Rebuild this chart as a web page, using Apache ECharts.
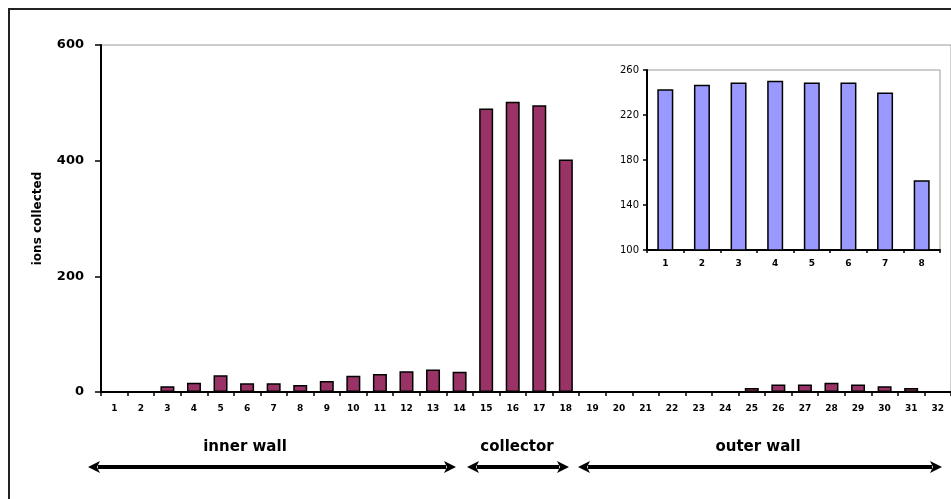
<!DOCTYPE html>
<html>
<head>
<meta charset="utf-8">
<script src="https://cdn.jsdelivr.net/npm/echarts@6/dist/echarts.min.js"></script>
<style>
html,body{margin:0;padding:0;background:#fff;}
#chart{width:951px;height:499px;}
</style>
</head>
<body>
<div id="chart"></div>
<script>
// Main chart: ions collected per segment
const mainCategories = ['1','2','3','4','5','6','7','8','9','10','11','12','13','14','15','16','17','18','19','20','21','22','23','24','25','26','27','28','29','30','31','32'];
const mainValues = [0,0,10,16,29,15,15,12,19,28,31,36,39,35,490,502,496,402,0,0,0,0,0,0,7,13,13,16,13,10,7,0];
const mainYTicks = [0,200,400,600];

// Inset chart: collector detail
const insetCategories = ['1','2','3','4','5','6','7','8'];
const insetValues = [243,247,249,250.5,249,249,240,162];
const insetYTicks = [100,140,180,220,260];

// Region annotations
const regionLabels = ['inner wall','collector','outer wall'];

const chart = echarts.init(document.getElementById('chart'), null, {renderer:'canvas'});
const FONT = 'DejaVu Sans';

function arrow(x1, x2, y) {
  const h = 6, len = 12;
  return [
    {type:'line', shape:{x1:x1+len-2, y1:y, x2:x2-len+2, y2:y}, style:{stroke:'#000', lineWidth:4}},
    {type:'polygon', shape:{points:[[x1,y],[x1+len,y-h],[x1+len-3,y],[x1+len,y+h]]}, style:{fill:'#000'}},
    {type:'polygon', shape:{points:[[x2,y],[x2-len,y-h],[x2-len+3,y],[x2-len,y+h]]}, style:{fill:'#000'}}
  ];
}

const option = {
  backgroundColor:'#fff',
  animation:false,
  grid:[
    {left:101, top:45, right:-8, bottom:107, show:true, borderColor:'#9a9a9a', borderWidth:1, backgroundColor:'transparent'},
    {left:647, top:70, right:11, bottom:249, show:true, borderColor:'#9a9a9a', borderWidth:1, backgroundColor:'#fff'}
  ],
  xAxis:[
    {type:'category', gridIndex:0, data:mainCategories,
      axisLine:{lineStyle:{color:'#000', width:2}},
      axisTick:{show:true, length:4, lineStyle:{color:'#000', width:1.5}},
      axisLabel:{color:'#000', fontFamily:FONT, fontWeight:'bold', fontSize:9, margin:12, interval:0}},
    {type:'category', gridIndex:1, data:insetCategories,
      axisLine:{lineStyle:{color:'#000', width:2}},
      axisTick:{show:true, length:3, lineStyle:{color:'#000', width:1.5}},
      axisLabel:{color:'#000', fontFamily:FONT, fontWeight:'bold', fontSize:9, margin:9, interval:0}}
  ],
  yAxis:[
    {type:'value', gridIndex:0, min:mainYTicks[0], max:mainYTicks[mainYTicks.length-1], interval:mainYTicks[1]-mainYTicks[0],
      name:'ions collected', nameLocation:'middle', nameGap:57, nameRotate:90,
      nameTextStyle:{color:'#000', fontFamily:FONT, fontWeight:'bold', fontSize:12},
      axisLine:{show:true, lineStyle:{color:'#000', width:2}},
      axisTick:{show:true, length:6, lineStyle:{color:'#000', width:1.5}},
      splitLine:{show:false},
      axisLabel:{color:'#000', fontFamily:FONT, fontWeight:'bold', fontSize:13, margin:17}},
    {type:'value', gridIndex:1, min:insetYTicks[0], max:insetYTicks[insetYTicks.length-1], interval:insetYTicks[1]-insetYTicks[0],
      axisLine:{show:true, lineStyle:{color:'#000', width:2}},
      axisTick:{show:true, length:4, lineStyle:{color:'#000', width:1.5}},
      splitLine:{show:false},
      axisLabel:{color:'#000', fontFamily:FONT, fontSize:10, margin:8}}
  ],
  series:[
    {type:'bar', xAxisIndex:0, yAxisIndex:0, data:mainValues, barWidth:14,
      itemStyle:{color:'#993366', borderColor:'#000', borderWidth:1.5}, z:2},
    {type:'bar', xAxisIndex:1, yAxisIndex:1, data:insetValues, barWidth:16,
      itemStyle:{color:'#9999ff', borderColor:'#000', borderWidth:1.5}, z:5}
  ],
  graphic:[
    {type:'rect', shape:{x:9, y:9, width:960, height:510}, style:{fill:null, stroke:'#222', lineWidth:2}, z:100, silent:true},
    {type:'text', x:245, y:447, style:{text:regionLabels[0], fill:'#000', font:'bold 15px "DejaVu Sans"', align:'center', verticalAlign:'middle'}},
    {type:'text', x:517, y:447, style:{text:regionLabels[1], fill:'#000', font:'bold 15px "DejaVu Sans"', align:'center', verticalAlign:'middle'}},
    {type:'text', x:758, y:447, style:{text:regionLabels[2], fill:'#000', font:'bold 15px "DejaVu Sans"', align:'center', verticalAlign:'middle'}},
    ...arrow(88, 456, 467),
    ...arrow(467, 569, 467),
    ...arrow(578, 942, 467)
  ]
};
chart.setOption(option);
</script>
</body>
</html>
